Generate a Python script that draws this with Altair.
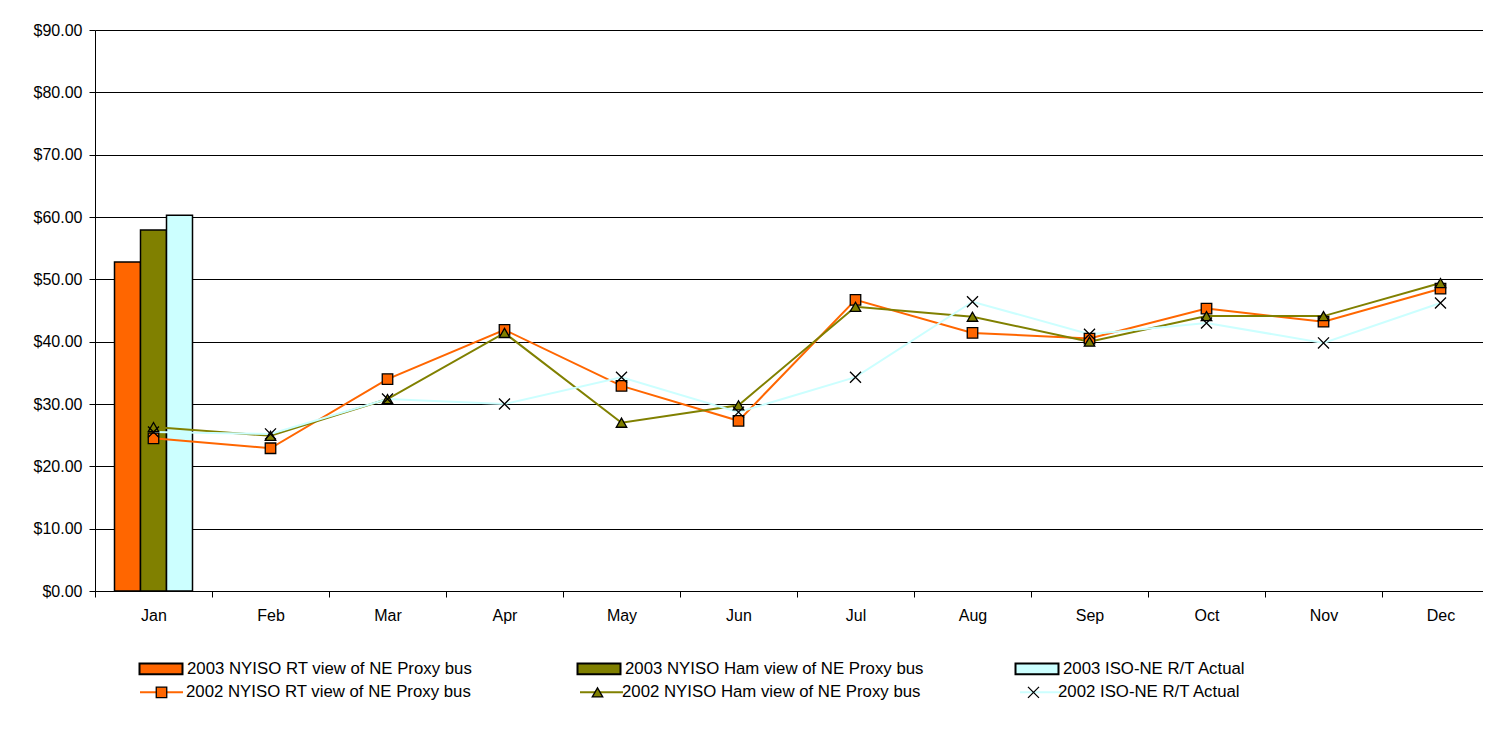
import altair as alt
import pandas as pd

months = ["Jan", "Feb", "Mar", "Apr", "May", "Jun", "Jul", "Aug", "Sep", "Oct", "Nov", "Dec"]

bar_series = ["2003 NYISO RT view of NE Proxy bus",
              "2003 NYISO Ham view of NE Proxy bus",
              "2003 ISO-NE R/T Actual"]
bar_month = ["Jan", "Jan", "Jan"]
bar_values = [52.8, 57.9, 60.3]

line_series = ["2002 NYISO RT view of NE Proxy bus",
               "2002 NYISO Ham view of NE Proxy bus",
               "2002 ISO-NE R/T Actual"]
line_keys = ["RT", "HAM", "ISO"]
rt_2002 = [24.5, 22.9, 34.0, 41.9, 32.9, 27.3, 46.7, 41.4, 40.5, 45.3, 43.2, 48.5]
ham_2002 = [26.3, 24.9, 30.8, 41.4, 27.0, 29.8, 45.6, 44.0, 40.0, 44.1, 44.1, 49.4]
iso_2002 = [25.5, 25.2, 30.8, 30.0, 34.3, 28.7, 34.3, 46.4, 41.2, 43.0, 39.8, 46.2]

colors = ["#FF6600", "#808000", "#CCFFFF"]
marker_shapes = ["square", "triangle-up", "M-1.05,-1.05L1.05,1.05M-1.05,1.05L1.05,-1.05"]
y_ticks = [0, 10, 20, 30, 40, 50, 60, 70, 80, 90]

FONT = "Liberation Sans"

bars_df = pd.DataFrame({"month": bar_month, "series": bar_series, "value": bar_values})
rows = []
for name, key, vals in zip(line_series, line_keys, [rt_2002, ham_2002, iso_2002]):
    for m, v in zip(months, vals):
        rows.append({"month": m, "series": name, "key": key, "value": v})
lines_df = pd.DataFrame(rows)

x_enc = alt.X("month:N", sort=months,
              scale=alt.Scale(type="band", domain=months, paddingInner=0, paddingOuter=0),
              axis=alt.Axis(title=None, tickBand="extent", labelAngle=0, labelFont=FONT,
                            labelFontSize=16, labelColor="black", labelPadding=10,
                            tickSize=6, tickColor="black", domainColor="black",
                            domainWidth=1, grid=False))
y_enc = alt.Y("value:Q",
              scale=alt.Scale(domain=[0, 90], nice=False, zero=True),
              axis=alt.Axis(title=None, values=y_ticks, format="$.2f", labelFont=FONT,
                            labelFontSize=16, labelColor="black", labelPadding=7,
                            tickSize=6, tickColor="black", domainColor="black",
                            grid=True, gridColor="black", gridWidth=1, gridOpacity=1))

common = dict(orient="none", title=None, columns=3, direction="horizontal",
              gridAlign="all", labelFont=FONT, labelFontSize=16.8,
              labelColor="black", labelLimit=600, padding=0)

bar_legend = alt.Legend(legendX=44, legendY=626.5, columnPadding=87,
                        symbolType="M-2,-0.5H2V0.5H-2Z", symbolSize=462,
                        symbolStrokeColor="black", symbolStrokeWidth=2,
                        symbolOffset=10, labelOffset=14, **common)

# line-segment part of the 2002 legend keys (no text of its own)
stroke_legend = alt.Legend(legendX=44, legendY=639.5, columnPadding=389,
                           symbolType="stroke", symbolSize=1849, symbolStrokeWidth=2,
                           labelOffset=2, labelExpr="''", **common)

marker_legend = alt.Legend(legendX=44, legendY=653.6, columnPadding=90,
                           symbolSize=110, symbolStrokeColor="black", symbolStrokeWidth=1.3,
                           symbolOffset=14.1, labelOffset=16.1, **common)

bars = alt.Chart(bars_df).mark_bar(stroke="black", strokeWidth=1.5).encode(
    x=x_enc,
    xOffset=alt.XOffset("series:N", sort=bar_series,
                        scale=alt.Scale(domain=bar_series, paddingInner=0, paddingOuter=0.75)),
    y=y_enc,
    fill=alt.Fill("series:N", scale=alt.Scale(domain=bar_series, range=colors), legend=bar_legend),
)

lines = alt.Chart(lines_df).mark_line(strokeWidth=2).encode(
    x=x_enc,
    y=y_enc,
    stroke=alt.Stroke("key:N", scale=alt.Scale(domain=line_keys, range=colors), legend=stroke_legend),
)

points = alt.Chart(lines_df).mark_point(filled=True, opacity=1, size=110, stroke="black",
                                        strokeWidth=1.3).encode(
    x=x_enc,
    y=y_enc,
    color=alt.Color("series:N", scale=alt.Scale(domain=line_series, range=colors), legend=marker_legend),
    shape=alt.Shape("series:N", scale=alt.Scale(domain=line_series, range=marker_shapes), legend=marker_legend),
)

chart = alt.layer(bars, lines, points).properties(
    width=1404, height=561,
    autosize=alt.AutoSizeParams(type="none"),
    padding={"left": 87, "top": 22, "right": -16, "bottom": 120},
    background="white",
).configure_view(strokeWidth=0)

chart.save("out.html", embed_options={"renderer": "svg", "actions": False})
